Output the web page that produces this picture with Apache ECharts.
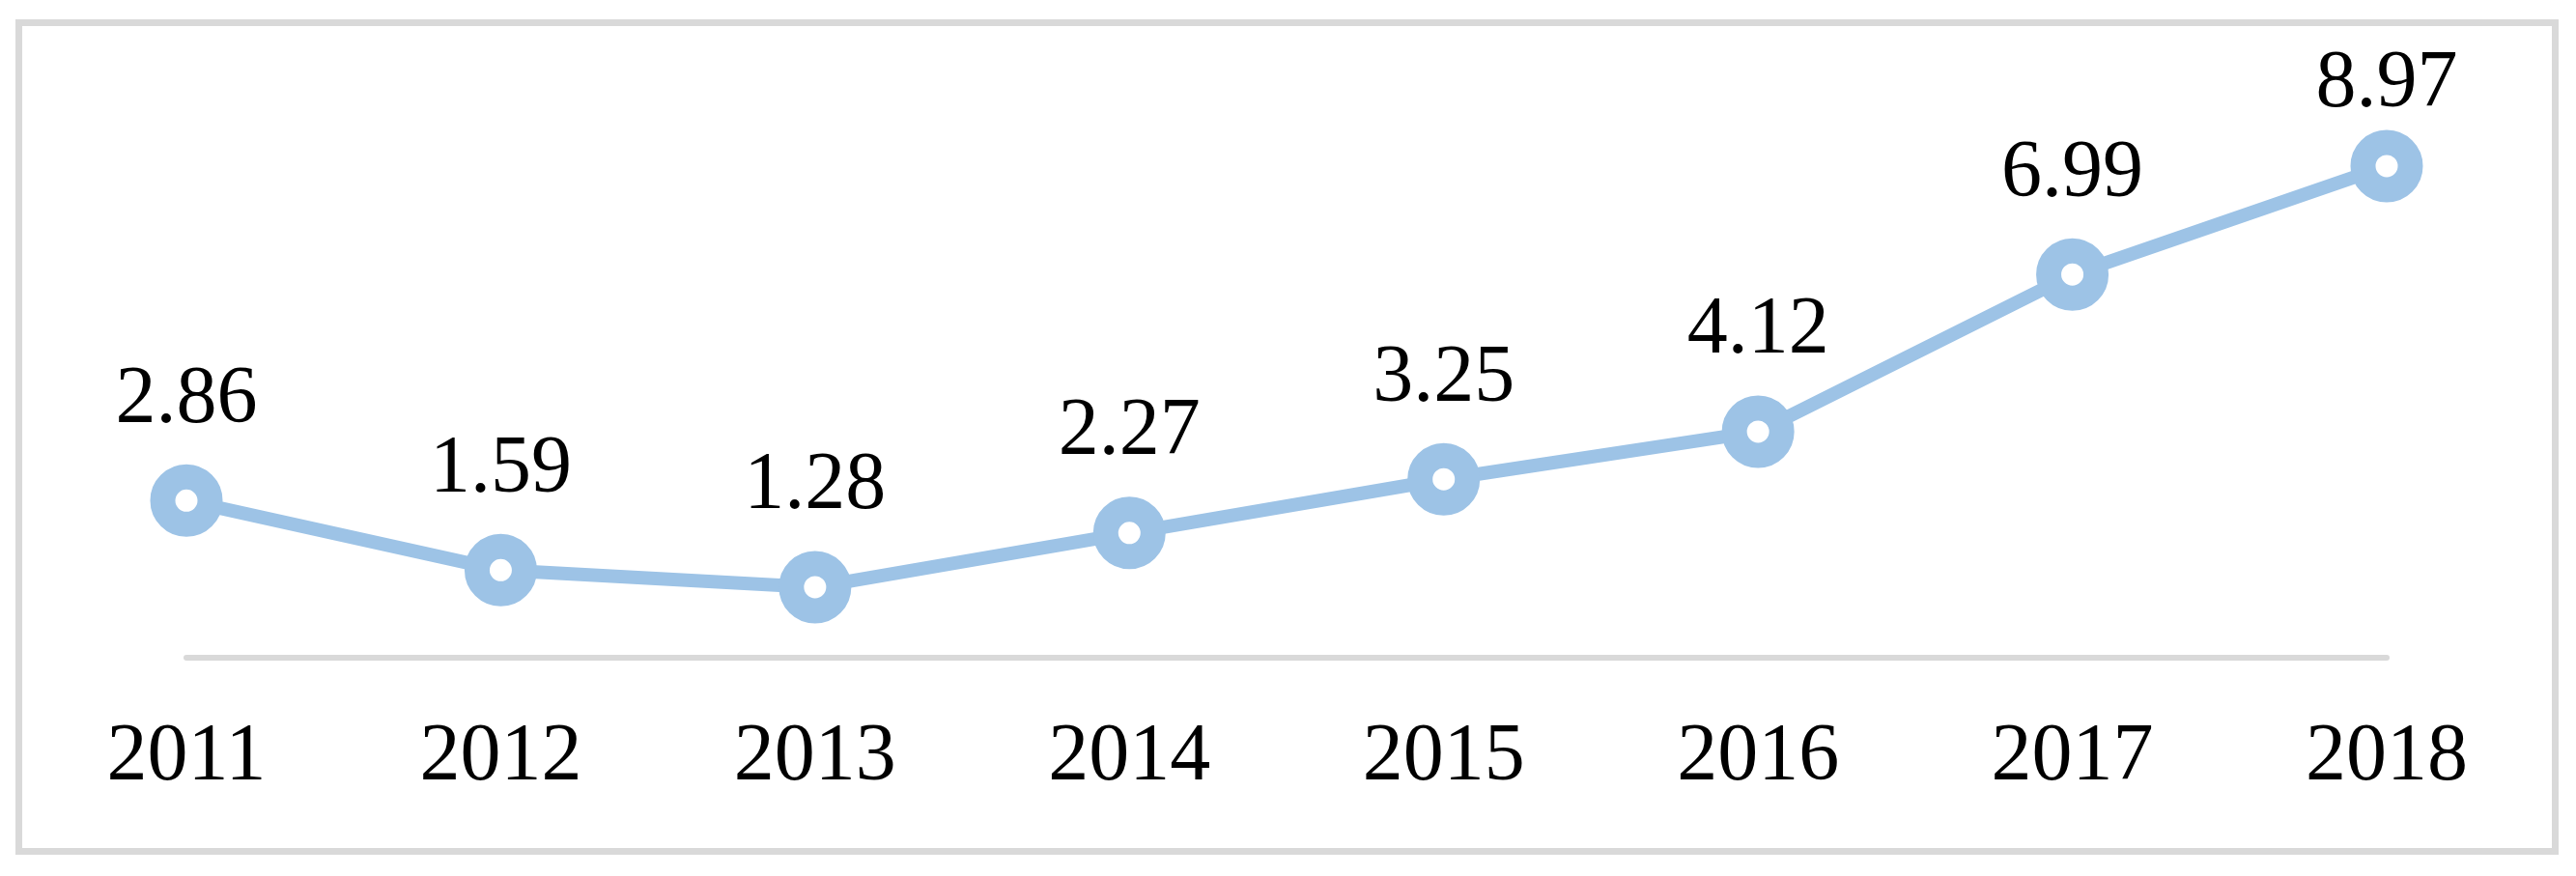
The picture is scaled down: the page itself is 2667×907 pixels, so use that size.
<!DOCTYPE html>
<html>
<head>
<meta charset="utf-8">
<script src="https://cdn.jsdelivr.net/npm/echarts@6/dist/echarts.min.js"></script>
<style>
html,body{margin:0;padding:0;background:#fff;}
#c{width:2667px;height:907px;}
</style>
</head>
<body>
<div id="c"></div>
<script>
const years = ['2011','2012','2013','2014','2015','2016','2017','2018'];
const values = [2.86, 1.59, 1.28, 2.27, 3.25, 4.12, 6.99, 8.97];

const chart = echarts.init(document.getElementById('c'), null, {renderer: 'canvas'});
const FONT = '"Times New Roman", "Liberation Serif", serif';
const maxVal = Math.max.apply(null, values);
// the top-most label is pushed down slightly to stay inside the plot area (as in the original)
const seriesData = values.map(v => v === maxVal ? {value: v, label: {distance: 4}} : v);
chart.setOption({
  backgroundColor: '#ffffff',
  animation: false,
  graphic: [{
    type: 'rect',
    shape: {x: 19.5, y: 23.5, width: 2626, height: 858},
    style: {fill: 'none', stroke: '#D9D9D9', lineWidth: 7},
    silent: true
  }],
  grid: {left: 193, right: 196, top: 113.5, bottom: 226.5},
  xAxis: {
    type: 'category',
    data: years,
    boundaryGap: false,
    axisLine: {show: true, lineStyle: {color: '#D9D9D9', width: 6}},
    axisTick: {show: false},
    axisLabel: {color: '#000', fontFamily: FONT, fontSize: 84, margin: 62}
  },
  yAxis: {
    type: 'value',
    min: 0, max: 10,
    show: false,
    splitLine: {show: false}
  },
  series: [{
    type: 'line',
    data: seriesData,
    symbol: 'circle',
    symbolSize: 49,
    itemStyle: {color: '#ffffff', borderColor: '#9DC3E6', borderWidth: 26},
    lineStyle: {color: '#9DC3E6', width: 14},
    label: {
      show: true,
      position: 'top',
      distance: 24,
      color: '#000',
      fontFamily: FONT,
      fontSize: 84,
      formatter: p => Number(p.value).toFixed(2)
    }
  }]
});
</script>
</body>
</html>
